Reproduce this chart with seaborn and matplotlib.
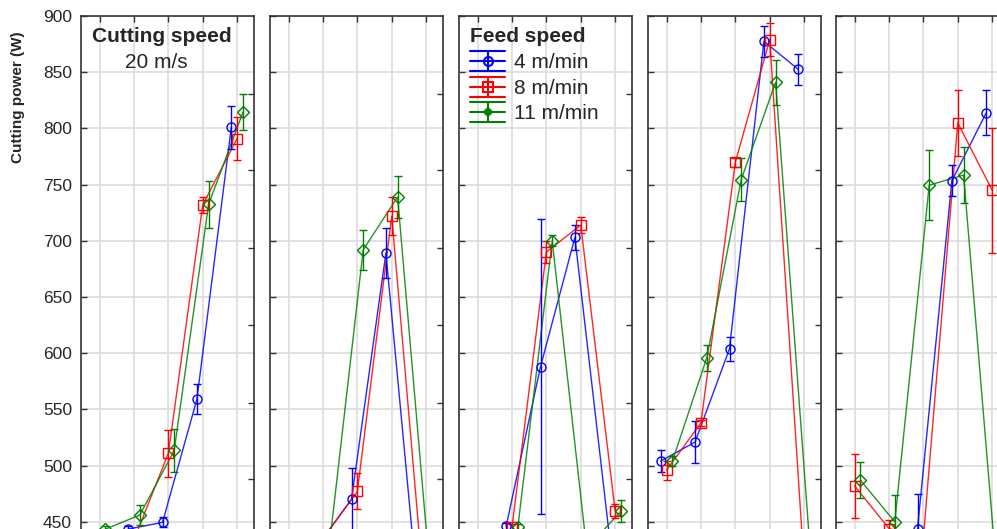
import numpy as np
import pandas as pd
import matplotlib
matplotlib.use('Agg')
import matplotlib.pyplot as plt
import seaborn as sns
from matplotlib.lines import Line2D
from matplotlib.legend_handler import HandlerBase

sns.set_style('white')
plt.rcParams['font.family'] = ['Liberation Sans', 'DejaVu Sans']

# Data (NaN = point lies fully outside the visible area)
nan = np.nan
feeds = ['4 m/min', '8 m/min', '11 m/min']
steps = [0, 1, 2, 3, 4]

# one row per panel (5 panels), one value per x position
power_4 = [[nan, 443.5, 449.5, 559, 801],
           [nan, 428, 470, 689, 363],
           [nan, 446, 588, 703, 438],
           [504, 521, 604, 877.5, 852.5],
           [nan, nan, 444, 753.5, 814]]
err_4 = [[nan, 3, 4.5, 13.5, 19],
         [nan, 5, 28, 22, 10],
         [nan, 3, 131, 11, 5],
         [10, 19, 10.5, 14, 14],
         [nan, nan, 31, 13.5, 20]]

power_8 = [[nan, 434, 511, 732, 791],
           [nan, 435.5, 477, 722, 367],
           [nan, 445, 690, 714, 459.5],
           [496, 538, 770, 879, 410],
           [482, 444, 436, 805, 745]]
err_8 = [[nan, 6, 21, 7, 19],
         [nan, 5, 16, 17, 10],
         [nan, 3, 10, 7.5, 6],
         [8.5, 3, 4, 15, 10],
         [28.5, 7.5, 5, 29.5, 55.5]]

power_11 = [[443.5, 456, 513.5, 732.5, 814.5],
            [nan, 424.5, 692, 739, 383.5],
            [nan, 445, 700, 426, 459.5],
            [504, 596, 754.5, 841, 426.5],
            [487, 450, 749.5, 758.5, 390]]
err_11 = [[3, 9, 19, 21, 16],
          [nan, 5, 18, 19, 10],
          [nan, 3, 5, 8, 9.5],
          [4.5, 11.5, 19.5, 20, 10],
          [16, 23.5, 31, 25, 10]]

right_ticks = [488, 556, 625, 694, 763, 831]

colors = ['#0000ff', '#ff0000', '#008000']
markers = ['o', 's', 'D']
offsets = [-0.17, 0.0, 0.17]
palette = dict(zip(feeds, colors))

powers = [power_4, power_8, power_11]
errs = [err_4, err_8, err_11]

rows = []
for p in range(5):
    for f, feed in enumerate(feeds):
        for s in steps:
            rows.append({'panel': p, 'feed': feed, 'step': s,
                         'x': s + offsets[f],
                         'power': powers[f][p][s], 'err': errs[f][p][s]})
df = pd.DataFrame(rows)

W, H = 997, 529
fig = plt.figure(figsize=(W / 100, H / 100), dpi=100)

ylo, yhi = 350, 900
px_per_unit = 1.124
top_px = 16
h_px = (yhi - ylo) * px_per_unit
bottom_frac = (H - top_px - h_px) / H
lefts = [81, 270, 459, 648, 836]
width_px = 173

axes = []
for p in range(5):
    ax = fig.add_axes([lefts[p] / W, bottom_frac, width_px / W, h_px / H])
    d = df[(df['panel'] == p)].dropna(subset=['power'])
    sns.lineplot(data=d, x='x', y='power', hue='feed', palette=palette,
                 estimator=None, sort=False, lw=1.0, alpha=0.85,
                 legend=False, ax=ax, zorder=3)
    for f, feed in enumerate(feeds):
        s = d[d['feed'] == feed]
        ax.errorbar(s['x'], s['power'], yerr=s['err'], fmt=markers[f],
                    ms=6.5 if markers[f] != 'D' else 6, mfc='none',
                    mec=colors[f], mew=1, ecolor=colors[f], elinewidth=1,
                    capsize=3, capthick=1, zorder=4)
    ax.set_xlim(-0.54, 4.49)
    ax.set_ylim(ylo, yhi)
    ax.set_xticks(steps)
    ax.set_yticks(np.arange(ylo, yhi + 1, 50))
    ax.set_axisbelow(True)
    ax.grid(True, color='#dcdcdc', lw=1.2)
    ax.set_xlabel('')
    ax.set_ylabel('')
    ax.tick_params(direction='in', top=True, bottom=False, right=False,
                   labelbottom=False, length=4, width=1, color='#333333',
                   labelsize=12.5, pad=6.5)
    if p > 0:
        ax.tick_params(labelleft=False)
    for sp in ax.spines.values():
        sp.set_color('#333333')
        sp.set_linewidth(1.2)
    ax2 = ax.twinx()
    ax2.set_ylim(ylo, yhi)
    ax2.set_yticks(right_ticks)
    ax2.tick_params(direction='in', length=4, width=1, color='#333333',
                    labelright=False)
    for sp in ax2.spines.values():
        sp.set_visible(False)
    axes.append(ax)

fig.text(18 / W, 1 - 97 / H, 'Cutting power (W)', fontsize=11,
         fontweight='bold', rotation=90, ha='center', va='center')

fig.text(92 / W, 1 - 36 / H, 'Cutting speed', fontsize=15, fontweight='bold',
         ha='left', va='center')
fig.text(125 / W, 1 - 62 / H, '20 m/s', fontsize=15, ha='left', va='center')


class BarHandle(HandlerBase):
    def create_artists(self, legend, orig, xd, yd, w, h, fs, trans):
        c = orig.get_color()
        m = orig.get_marker()
        cy = h / 2 - yd
        dy = 10 * 72 / 100
        arts = []
        for off in (-dy, 0, dy):
            arts.append(Line2D([-xd, -xd + w], [cy + off] * 2, color=c,
                               lw=1.5, transform=trans))
        arts.append(Line2D([-xd + w / 2] * 2, [cy - dy, cy + dy], color=c,
                           lw=1.5, transform=trans))
        filled = m == 'D'
        arts.append(Line2D([-xd + w / 2], [cy], marker=m, ls='none',
                           mfc=c if filled else 'none', mec=c,
                           ms=4.5 if filled else 6.5, mew=1.5,
                           transform=trans))
        return arts


handles = [Line2D([], [], color=c, marker=m) for c, m in zip(colors, markers)]
leg = fig.legend(handles, feeds, loc='upper left',
                 bbox_to_anchor=(470 / W, 1 - 27 / H), frameon=False,
                 fontsize=15, title='Feed speed',
                 title_fontproperties={'weight': 'bold', 'size': 15},
                 handler_map={h: BarHandle() for h in handles},
                 handlelength=1.7, handleheight=1.0, handletextpad=0.4,
                 labelspacing=0.25, borderpad=0, borderaxespad=0,
                 alignment='left')
# a little more room between the title and the first entry
leg._legend_box.sep = 4

fig.savefig('out.png', dpi=100)
